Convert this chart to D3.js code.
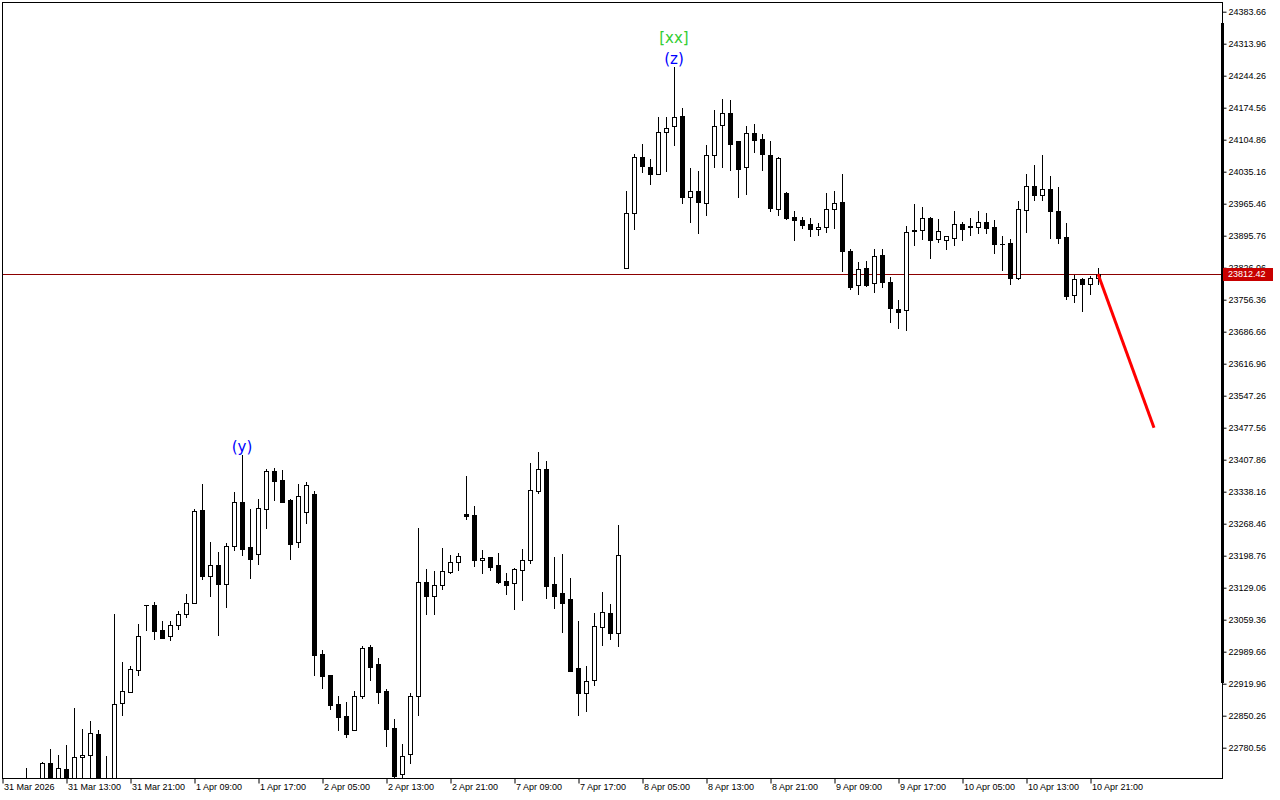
<!DOCTYPE html>
<html>
<head>
<meta charset="utf-8">
<script src="https://cdn.jsdelivr.net/npm/d3@7"></script>
<style>
  body { margin: 0; background: #fff; }
  svg { display: block; }
</style>
</head>
<body>
<svg id="chart" width="1280" height="800"></svg>
<script>
// dati (candele orarie, 138 barre)
const opens = [22690,22680,22695,22700,22692,22700,22747.3,22705,22734.3,22705,
  22759.7,22764.0,22810.5,22705,22705,22877.3,22902.7,22949.1,23091.5,23091.5,
  23036.3,23023.2,23047.2,23071.1,23095.1,23297.6,23155.3,23177.8,23137.9,23219.2,
  23315.1,23217.0,23203.2,23301.3,23383.3,23363.0,23320.1,23227.9,23293.3,23333.2,
  22984.0,22939.0,22875.1,22849.7,22818.5,22892.5,23000.0,22962.9,22904.1,22823.5,
  22722.6,22766.2,22893.9,23140.8,23111.8,23134.3,23164.1,23184.4,23289.6,23286.7,
  23188.7,23195.3,23177.8,23143.0,23140.1,23167.0,23188.7,23339.7,23386.9,23136.5,
  23116.9,23103.8,22953.5,22900.5,22927.4,23044.3,23073.3,23029.7,23824.7,23944.5,
  24067.2,24045.4,24029.4,24120.9,24134.0,24155.8,23979.4,23992.4,23967.7,24070.8,
  24136.2,24162.3,24101.3,24046.1,24118.7,24106.4,24070.8,23954.7,23988.1,23935.8,
  23930.0,23920.5,23909.6,23914.0,23953.2,23968.5,23861.7,23787.7,23824.7,23792.0,
  23853.0,23794.2,23735.4,23733.2,23908.2,23907.5,23933.6,23887.9,23885.7,23890.1,
  23920.5,23916.2,23914.0,23924.9,23914.0,23877.0,23879.2,23802.9,23951.0,24003.3,
  23983.7,23996.8,23948.9,23892.2,23765.9,23800.8,23789.9,23802.9]
const highs = [22702,22700,22710,22735.7,22708,22749.5,22777.8,22764.7,22786.5,22867.1,
  22821.4,22838.8,22819.2,22763.3,23071.9,22967.3,22957.9,23050.1,23091.5,23097.3,
  23056.6,23056.6,23077.7,23115.4,23299.8,23355.7,23228.7,23206.9,23226.5,23337.6,
  23418.2,23300.5,23321.6,23388.4,23389.8,23385.5,23321.6,23355.0,23359.3,23339.7,
  22993.4,22939.0,22893.2,22880.2,22904.1,23002.9,23004.3,22976.0,22908.5,22843.2,
  22788.7,22900.5,23259.9,23169.9,23165.5,23215.6,23200.4,23204.0,23373.1,23307.1,
  23211.3,23195.3,23204.7,23161.1,23172.8,23213.4,23400.7,23424.7,23405.1,23195.3,
  23202.5,23150.3,23056.6,22958.6,23074.0,23119.8,23094.4,23265.7,23993.1,24073.0,
  24095.5,24062.1,24154.3,24155.0,24262.5,24173.9,24043.2,24036.7,24092.6,24169.6,
  24193.5,24191.4,24101.3,24134.7,24139.1,24117.3,24102.0,24067.2,23990.2,23948.9,
  23937.2,23933.6,23922.7,23988.8,23993.1,24030.2,23866.8,23838.5,23840.7,23866.8,
  23866.8,23805.8,23755.0,23916.9,23964.8,23958.3,23935.8,23932.2,23894.4,23949.6,
  23924.9,23933.6,23949.6,23945.2,23929.2,23894.4,23888.6,23971.4,24030.2,24049.8,
  24071.5,24025.1,24001.9,23923.4,23810.2,23802.9,23807.3,23824.7]
const lows = [22668,22660,22675,22680,22670,22690,22695,22695,22690,22700,
  22705,22717.6,22690,22690,22700,22852.6,22901.2,22939.7,23037.0,23018.1,
  23020.3,23015.2,23039.9,23066.0,23095.1,23148.8,23111.8,23026.8,23087.8,23212.0,
  23200.4,23151.0,23180.8,23259.2,23320.1,23316.5,23190.9,23218.5,23270.8,22939.0,
  22911.4,22865.6,22819.9,22804.7,22818.5,22888.9,22928.8,22878.7,22785.1,22705,
  22705,22748.1,22851.9,23072.6,23072.6,23127.0,23161.9,23168.4,23279.5,23177.1,
  23161.9,23167.0,23140.1,23116.1,23083.5,23103.1,23183.6,23336.1,23107.4,23085.7,
  23033.4,22947.0,22851.9,22861.3,22917.2,23003.6,23018.1,23002.9,23824.7,23911.1,
  24035.2,24009.1,24029.4,24037.4,24094.1,23967.7,23926.4,23902.4,23941.6,24046.1,
  24046.1,24039.6,23980.8,23987.3,24078.8,24039.6,23950.3,23941.6,23932.9,23887.2,
  23912.6,23895.9,23898.0,23903.1,23913.3,23819.6,23780.4,23768.1,23786.9,23773.9,
  23784.8,23708.5,23695.5,23691.1,23876.2,23889.3,23847.9,23881.3,23867.5,23876.2,
  23887.1,23898.0,23902.4,23902.4,23858.8,23821.8,23789.9,23800.8,23904.6,23972.8,
  23972.8,23891.5,23880.6,23757.2,23752.1,23732.5,23769.5,23789.9]
const closes = [22680,22695,22688,22692,22698,22748.1,22705,22735.7,22700,22759.7,
  22764.8,22811.9,22700,22700,22875.1,22903.4,22951.3,23023.2,23091.5,23035.5,
  23020.3,23047.2,23071.9,23095.1,23296.2,23155.3,23177.8,23137.9,23219.2,23315.1,
  23214.1,23190.9,23302.0,23383.3,23362.3,23316.5,23225.0,23328.1,23352.8,22983.3,
  22937.5,22874.4,22848.2,22810.5,22893.2,22997.8,22957.1,22902.7,22822.1,22719.7,
  22762.6,22893.2,23140.8,23111.8,23134.3,23164.8,23184.4,23197.4,23286.0,23188.7,
  23193.8,23174.9,23141.5,23135.7,23169.9,23188.7,23341.2,23386.9,23133.6,23111.8,
  23096.5,22947.0,22900.5,22925.2,23045.0,23075.5,23029.7,23199.6,23944.5,24067.2,
  24048.3,24030.9,24120.9,24129.6,24153.6,23980.8,23992.4,23969.9,24070.8,24134.0,
  24162.3,24096.2,24041.8,24118.7,24104.9,24074.5,23956.8,24065.0,23934.3,23929.3,
  23919.8,23909.6,23914.0,23953.2,23966.3,23861.7,23784.8,23822.5,23789.1,23850.8,
  23794.2,23737.6,23730.3,23903.1,23905.3,23933.6,23887.1,23905.3,23894.4,23920.5,
  23911.1,23914.0,23924.9,23913.3,23877.0,23877.0,23802.9,23953.2,24003.3,23983.7,
  23996.8,23948.9,23891.5,23763.7,23800.8,23789.9,23802.9,23812.42]

// etichette asse x (una ogni 8 barre)
const timeLabels = ['31 Mar 2026','31 Mar 13:00','31 Mar 21:00','1 Apr 09:00','1 Apr 17:00',
  '2 Apr 05:00','2 Apr 13:00','2 Apr 21:00','7 Apr 09:00','7 Apr 17:00','8 Apr 05:00',
  '8 Apr 13:00','8 Apr 21:00','9 Apr 09:00','9 Apr 17:00','10 Apr 05:00','10 Apr 13:00','10 Apr 21:00']
const timeLabelBars = timeLabels.map((d, i) => i * 8)

// etichette asse y
const priceTicks = [24383.66,24313.96,24244.26,24174.56,24104.86,24035.16,23965.46,23895.76,
  23826.06,23756.36,23686.66,23616.96,23547.26,23477.56,23407.86,23338.16,23268.46,23198.76,
  23129.06,23059.36,22989.66,22919.96,22850.26,22780.56]

// prezzo corrente e linea di proiezione
const lastPrice = 23812.42
const projBars = [137, 144]
const projPrices = [23812.42, 23477.56]

// etichette delle onde
const waveText = ['[xx]', '(z)', '(y)']
const waveBar = [84, 84, 30]
const wavePrice = [24325.3, 24280.6, 23434.5]
const waveColor = ['#32cd32', '#0000ff', '#0000ff']

const svg = d3.select('#chart')
const fontAxis = '"Liberation Sans", Arial, sans-serif'

// area del grafico
const plotLeft = 2, plotRight = 1222, plotTop = 2, plotBottom = 778

const xScale = d3.scaleLinear()
  .domain([0, 137])
  .range([2, 1098])

const yScale = d3.scaleLinear()
  .domain([22780.56, 24383.66])
  .range([747.7, 11.7])

svg.append('defs').append('clipPath').attr('id', 'plot')
  .append('rect')
  .attr('x', plotLeft + 1).attr('y', plotTop + 1)
  .attr('width', plotRight - plotLeft - 1).attr('height', plotBottom - plotTop - 1)

// linea del prezzo corrente (dietro le candele)
svg.append('line')
  .attr('x1', plotLeft).attr('x2', plotRight)
  .attr('y1', Math.round(yScale(lastPrice)) + 0.5)
  .attr('y2', Math.round(yScale(lastPrice)) + 0.5)
  .style('stroke', '#8c0000')
  .style('stroke-width', 1)

const bars = d3.range(opens.length)
const g = svg.append('g').attr('clip-path', 'url(#plot)')

// stoppini
g.selectAll('line.wick')
  .data(bars)
  .enter()
  .append('line')
  .attr('class', 'wick')
  .attr('x1', i => Math.round(xScale(i)) + 0.5)
  .attr('x2', i => Math.round(xScale(i)) + 0.5)
  .attr('y1', i => Math.round(yScale(highs[i])))
  .attr('y2', i => Math.round(yScale(lows[i])) + 1)
  .style('stroke', 'black')
  .style('stroke-width', 1)

// corpi
g.selectAll('rect.body')
  .data(bars)
  .enter()
  .append('rect')
  .attr('class', 'body')
  .each(function(i) {
    const cx = Math.round(xScale(i))
    const yTop = Math.round(yScale(Math.max(opens[i], closes[i])))
    const yBot = Math.round(yScale(Math.min(opens[i], closes[i])))
    const el = d3.select(this)
    if (closes[i] > opens[i] && yBot - yTop >= 2) {
      el.attr('x', cx - 1.5).attr('y', yTop + 0.5)
        .attr('width', 4).attr('height', yBot - yTop)
        .style('fill', 'white').style('stroke', 'black').style('stroke-width', 1)
    } else {
      el.attr('x', cx - 2).attr('y', yTop)
        .attr('width', 5).attr('height', Math.max(1, yBot - yTop + 1))
        .style('fill', 'black')
    }
  })

// linea di proiezione rossa
svg.append('line')
  .attr('x1', xScale(projBars[0])).attr('y1', yScale(projPrices[0]))
  .attr('x2', xScale(projBars[1])).attr('y2', yScale(projPrices[1]))
  .style('stroke', '#ff0000')
  .style('stroke-width', 3)

// etichette onde
svg.selectAll('text.wave')
  .data(waveText)
  .enter()
  .append('text')
  .attr('class', 'wave')
  .attr('x', (d, i) => xScale(waveBar[i]))
  .attr('y', (d, i) => yScale(wavePrice[i]))
  .attr('text-anchor', 'middle')
  .attr('dominant-baseline', 'central')
  .style('font-family', '"DejaVu Sans", sans-serif')
  .style('font-size', '15px')
  .style('fill', (d, i) => waveColor[i])
  .text(d => d)

// bordo del grafico
svg.append('rect')
  .attr('x', plotLeft + 0.5).attr('y', plotTop + 0.5)
  .attr('width', plotRight - plotLeft).attr('height', plotBottom - plotTop)
  .style('fill', 'none')
  .style('stroke', 'black')

// asse y a destra
const yAxis = d3.axisRight(yScale)
  .tickValues(priceTicks)
  .tickSize(4)
  .tickPadding(2)
  .tickFormat(d => d.toFixed(2))

const yTicks = svg.append('g')
  .attr('transform', `translate(${plotRight + 0.5}, 0)`)
  .call(yAxis)

yTicks.select('path.domain').remove()
yTicks.selectAll('.tick line').style('stroke', 'black')
yTicks.selectAll('.tick text')
  .style('font-family', fontAxis)
  .style('font-size', '9px')
  .style('fill', 'black')

// barra spessa sul bordo destro
svg.append('rect')
  .attr('x', plotRight - 1).attr('y', 23)
  .attr('width', 3).attr('height', 660)
  .style('fill', 'black')

// asse x
const xAxis = d3.axisBottom(xScale)
  .tickValues(timeLabelBars)
  .tickSize(5)
  .tickFormat((d, i) => timeLabels[i])

const xTicks = svg.append('g')
  .attr('transform', `translate(0.5, ${plotBottom + 0.5})`)
  .call(xAxis)

xTicks.select('path.domain').remove()
xTicks.selectAll('.tick line').style('stroke', 'black')
xTicks.selectAll('.tick text')
  .attr('text-anchor', 'start')
  .attr('x', 1)
  .attr('y', 5)
  .style('font-family', fontAxis)
  .style('font-size', '9px')
  .style('fill', 'black')

// etichetta del prezzo corrente (copre in parte l'etichetta 23826.06, come nell'originale)
const ly = yScale(lastPrice)
svg.append('rect')
  .attr('x', plotRight + 1).attr('y', Math.round(ly) - 6)
  .attr('width', 50).attr('height', 13)
  .style('fill', '#c80000')
svg.append('text')
  .attr('x', plotRight + 6).attr('y', ly)
  .attr('dominant-baseline', 'central')
  .style('font-family', fontAxis)
  .style('font-size', '9px')
  .style('fill', 'white')
  .text(lastPrice.toFixed(2))
</script>
</body>
</html>
